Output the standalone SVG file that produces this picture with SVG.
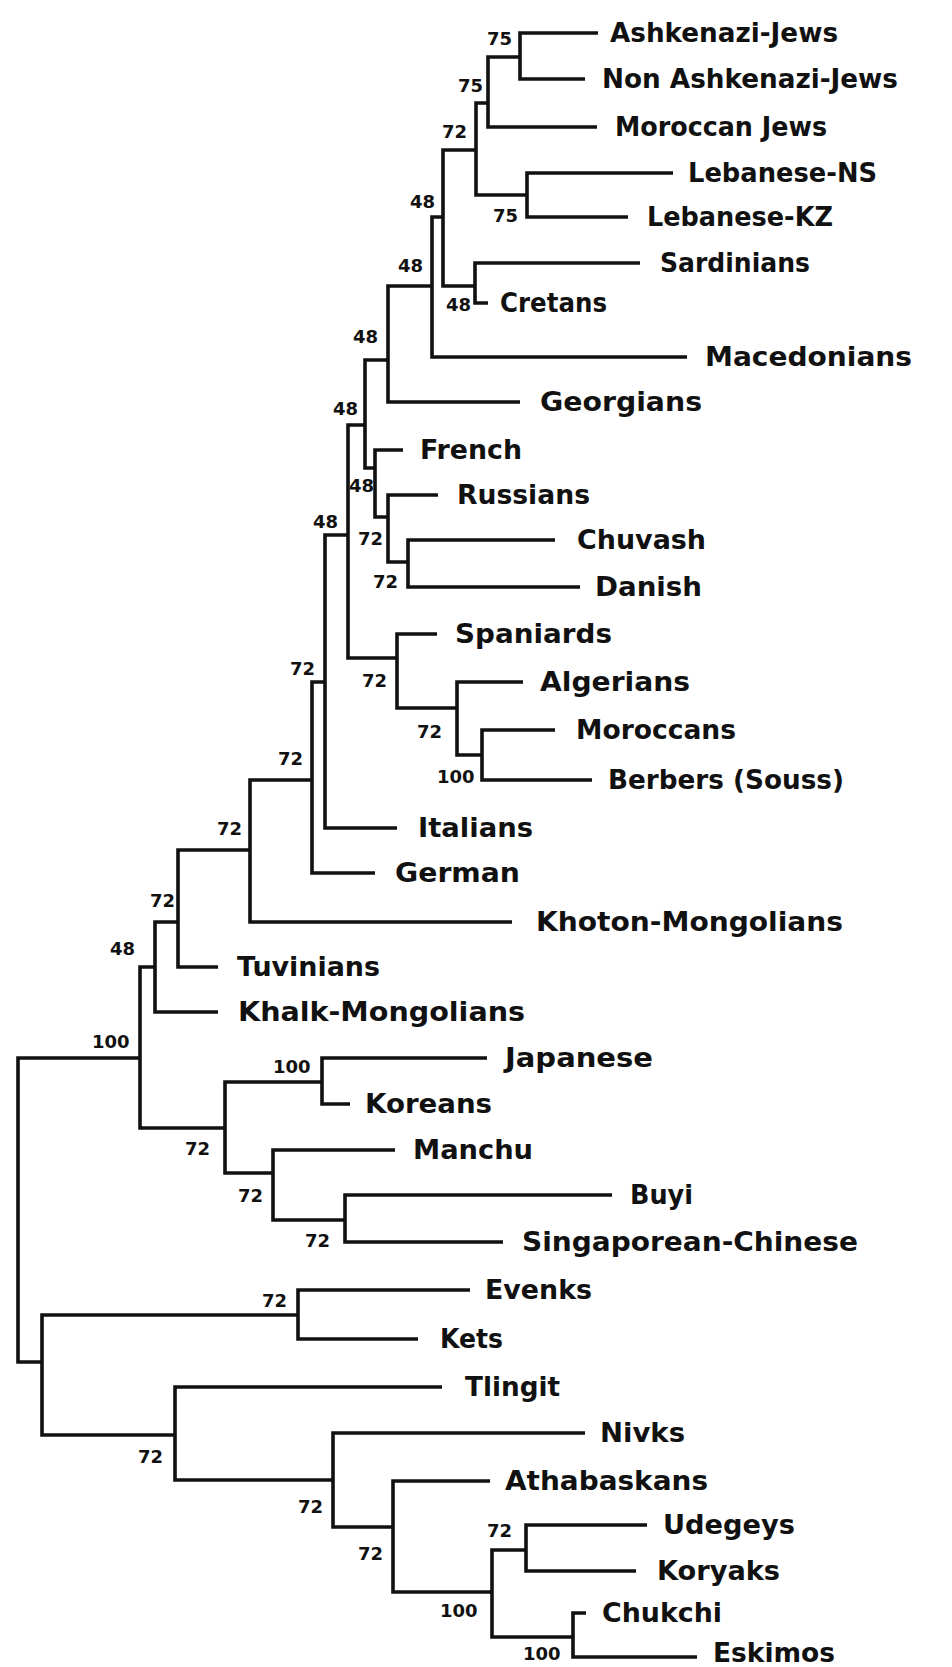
<svg xmlns="http://www.w3.org/2000/svg" width="952" height="1667" viewBox="0 0 952 1667">
<style>
.c{fill:none;stroke:#111;stroke-width:3.6;stroke-linejoin:miter;stroke-linecap:butt}
.t{font-family:"DejaVu Sans","Liberation Sans",sans-serif;font-weight:bold;font-size:26px;fill:#111}
.b{font-family:"DejaVu Sans","Liberation Sans",sans-serif;font-weight:bold;font-size:18px;fill:#111}
</style>
<rect width="952" height="1667" fill="#fff"/>
<g id="connectors">
<path class="c" d="M598 33H520V79H585"/>
<path class="c" d="M520 57H488V127H597"/>
<path class="c" d="M488 103H476V195H527"/>
<path class="c" d="M673 173H527V217H628"/>
<path class="c" d="M476 150H443V286H475"/>
<path class="c" d="M640 263H475V303H488"/>
<path class="c" d="M443 217H432V357H687"/>
<path class="c" d="M432 286H388V402H520"/>
<path class="c" d="M388 360H365V468H375"/>
<path class="c" d="M403 450H375V517H388"/>
<path class="c" d="M438 495H388V562H408"/>
<path class="c" d="M555 540H408V587H580"/>
<path class="c" d="M365 425H348V658H397"/>
<path class="c" d="M348 535H325V828H397"/>
<path class="c" d="M437 634H397V708H457"/>
<path class="c" d="M523 682H457V755H482"/>
<path class="c" d="M555 730H482V780H592"/>
<path class="c" d="M325 682H312V873H375"/>
<path class="c" d="M312 780H250V922H512"/>
<path class="c" d="M250 850H178V967H218"/>
<path class="c" d="M178 922H155V1012H218"/>
<path class="c" d="M155 967H140V1128H225"/>
<path class="c" d="M140 1058H18V1362H42"/>
<path class="c" d="M322 1082H225V1173H273"/>
<path class="c" d="M487 1058H322V1104H350"/>
<path class="c" d="M395 1150H273V1220H345"/>
<path class="c" d="M612 1195H345V1242H503"/>
<path class="c" d="M470 1290H298V1339H418"/>
<path class="c" d="M298 1315H42V1435H175"/>
<path class="c" d="M442 1387H175V1480H333"/>
<path class="c" d="M585 1433H333V1527H393"/>
<path class="c" d="M490 1481H393V1592H492"/>
<path class="c" d="M526 1550H492V1637H573"/>
<path class="c" d="M647 1525H526V1571H636"/>
<path class="c" d="M586 1613H573V1657H697"/>
</g>
<g id="leaf-ashkenazi-jews"><text class="t" x="610" y="42" textLength="228" lengthAdjust="spacingAndGlyphs">Ashkenazi-Jews</text></g>
<g id="leaf-non-ashkenazi-jews"><text class="t" x="602" y="88" textLength="296" lengthAdjust="spacingAndGlyphs">Non Ashkenazi-Jews</text></g>
<g id="leaf-moroccan-jews"><text class="t" x="615" y="136" textLength="212" lengthAdjust="spacingAndGlyphs">Moroccan Jews</text></g>
<g id="leaf-lebanese-ns"><text class="t" x="688" y="182" textLength="189" lengthAdjust="spacingAndGlyphs">Lebanese-NS</text></g>
<g id="leaf-lebanese-kz"><text class="t" x="647" y="226" textLength="186" lengthAdjust="spacingAndGlyphs">Lebanese-KZ</text></g>
<g id="leaf-sardinians"><text class="t" x="660" y="272" textLength="150" lengthAdjust="spacingAndGlyphs">Sardinians</text></g>
<g id="leaf-cretans"><text class="t" x="500" y="312" textLength="107" lengthAdjust="spacingAndGlyphs">Cretans</text></g>
<g id="leaf-macedonians"><text class="t" x="705" y="366" textLength="207" lengthAdjust="spacingAndGlyphs">Macedonians</text></g>
<g id="leaf-georgians"><text class="t" x="540" y="411" textLength="162" lengthAdjust="spacingAndGlyphs">Georgians</text></g>
<g id="leaf-french"><text class="t" x="420" y="459" textLength="102" lengthAdjust="spacingAndGlyphs">French</text></g>
<g id="leaf-russians"><text class="t" x="457" y="504" textLength="133" lengthAdjust="spacingAndGlyphs">Russians</text></g>
<g id="leaf-chuvash"><text class="t" x="577" y="549" textLength="129" lengthAdjust="spacingAndGlyphs">Chuvash</text></g>
<g id="leaf-danish"><text class="t" x="595" y="596" textLength="107" lengthAdjust="spacingAndGlyphs">Danish</text></g>
<g id="leaf-spaniards"><text class="t" x="455" y="643" textLength="157" lengthAdjust="spacingAndGlyphs">Spaniards</text></g>
<g id="leaf-algerians"><text class="t" x="540" y="691" textLength="150" lengthAdjust="spacingAndGlyphs">Algerians</text></g>
<g id="leaf-moroccans"><text class="t" x="576" y="739" textLength="160" lengthAdjust="spacingAndGlyphs">Moroccans</text></g>
<g id="leaf-berbers"><text class="t" x="608" y="789" textLength="236" lengthAdjust="spacingAndGlyphs">Berbers (Souss)</text></g>
<g id="leaf-italians"><text class="t" x="418" y="837" textLength="115" lengthAdjust="spacingAndGlyphs">Italians</text></g>
<g id="leaf-german"><text class="t" x="395" y="882" textLength="125" lengthAdjust="spacingAndGlyphs">German</text></g>
<g id="leaf-khoton-mongolians"><text class="t" x="536" y="931" textLength="307" lengthAdjust="spacingAndGlyphs">Khoton-Mongolians</text></g>
<g id="leaf-tuvinians"><text class="t" x="237" y="976" textLength="143" lengthAdjust="spacingAndGlyphs">Tuvinians</text></g>
<g id="leaf-khalk-mongolians"><text class="t" x="238" y="1021" textLength="287" lengthAdjust="spacingAndGlyphs">Khalk-Mongolians</text></g>
<g id="leaf-japanese"><text class="t" x="505" y="1067" textLength="148" lengthAdjust="spacingAndGlyphs">Japanese</text></g>
<g id="leaf-koreans"><text class="t" x="365" y="1113" textLength="127" lengthAdjust="spacingAndGlyphs">Koreans</text></g>
<g id="leaf-manchu"><text class="t" x="413" y="1159" textLength="120" lengthAdjust="spacingAndGlyphs">Manchu</text></g>
<g id="leaf-buyi"><text class="t" x="630" y="1204" textLength="63" lengthAdjust="spacingAndGlyphs">Buyi</text></g>
<g id="leaf-singaporean-chinese"><text class="t" x="522" y="1251" textLength="336" lengthAdjust="spacingAndGlyphs">Singaporean-Chinese</text></g>
<g id="leaf-evenks"><text class="t" x="485" y="1299" textLength="107" lengthAdjust="spacingAndGlyphs">Evenks</text></g>
<g id="leaf-kets"><text class="t" x="440" y="1348" textLength="63" lengthAdjust="spacingAndGlyphs">Kets</text></g>
<g id="leaf-tlingit"><text class="t" x="465" y="1396" textLength="95" lengthAdjust="spacingAndGlyphs">Tlingit</text></g>
<g id="leaf-nivks"><text class="t" x="600" y="1442" textLength="85" lengthAdjust="spacingAndGlyphs">Nivks</text></g>
<g id="leaf-athabaskans"><text class="t" x="505" y="1490" textLength="203" lengthAdjust="spacingAndGlyphs">Athabaskans</text></g>
<g id="leaf-udegeys"><text class="t" x="663" y="1534" textLength="132" lengthAdjust="spacingAndGlyphs">Udegeys</text></g>
<g id="leaf-koryaks"><text class="t" x="657" y="1580" textLength="123" lengthAdjust="spacingAndGlyphs">Koryaks</text></g>
<g id="leaf-chukchi"><text class="t" x="602" y="1622" textLength="120" lengthAdjust="spacingAndGlyphs">Chukchi</text></g>
<g id="leaf-eskimos"><text class="t" x="713" y="1662" font-size="25" textLength="122" lengthAdjust="spacingAndGlyphs">Eskimos</text></g>
<g id="node-a"><text class="b" x="487" y="45">75</text></g>
<g id="node-b"><text class="b" x="458" y="92">75</text></g>
<g id="node-c"><text class="b" x="442" y="138">72</text></g>
<g id="node-d"><text class="b" x="493" y="222">75</text></g>
<g id="node-e"><text class="b" x="410" y="208">48</text></g>
<g id="node-f"><text class="b" x="446" y="311">48</text></g>
<g id="node-g"><text class="b" x="398" y="272">48</text></g>
<g id="node-h"><text class="b" x="353" y="343">48</text></g>
<g id="node-i"><text class="b" x="333" y="415">48</text></g>
<g id="node-j"><text class="b" x="349" y="492">48</text></g>
<g id="node-k"><text class="b" x="358" y="545">72</text></g>
<g id="node-l"><text class="b" x="373" y="588">72</text></g>
<g id="node-m"><text class="b" x="313" y="528">48</text></g>
<g id="node-n"><text class="b" x="290" y="675">72</text></g>
<g id="node-o"><text class="b" x="362" y="687">72</text></g>
<g id="node-p"><text class="b" x="417" y="738">72</text></g>
<g id="node-q"><text class="b" x="437" y="783">100</text></g>
<g id="node-r"><text class="b" x="278" y="765">72</text></g>
<g id="node-s"><text class="b" x="217" y="835">72</text></g>
<g id="node-t"><text class="b" x="150" y="907">72</text></g>
<g id="node-u"><text class="b" x="110" y="955">48</text></g>
<g id="node-v"><text class="b" x="92" y="1048">100</text></g>
<g id="node-y"><text class="b" x="273" y="1073">100</text></g>
<g id="node-x"><text class="b" x="185" y="1155">72</text></g>
<g id="node-z"><text class="b" x="238" y="1202">72</text></g>
<g id="node-aa"><text class="b" x="305" y="1247">72</text></g>
<g id="node-bb"><text class="b" x="262" y="1307">72</text></g>
<g id="node-dd"><text class="b" x="138" y="1463">72</text></g>
<g id="node-ee"><text class="b" x="298" y="1513">72</text></g>
<g id="node-ff"><text class="b" x="358" y="1560">72</text></g>
<g id="node-gg"><text class="b" x="440" y="1617">100</text></g>
<g id="node-hh"><text class="b" x="487" y="1537">72</text></g>
<g id="node-ii"><text class="b" x="523" y="1660">100</text></g>
</svg>
